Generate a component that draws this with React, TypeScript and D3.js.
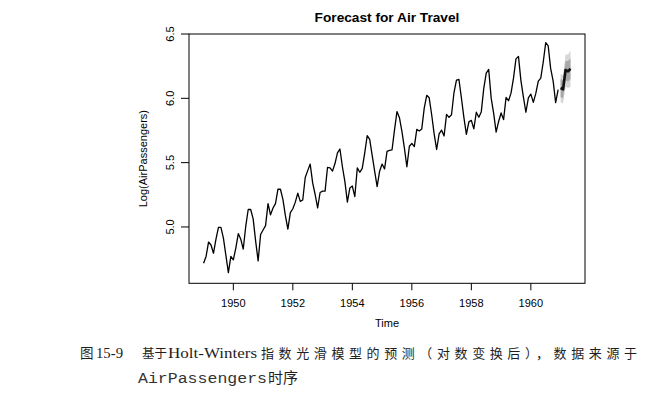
import React from "react";
import * as d3 from "d3";

const W = 659;
const H = 393;

const startYear = 1949;
const passengers = [
  112, 118, 132, 129, 121, 135, 148, 148, 136, 119, 104, 118,
  115, 126, 141, 135, 125, 149, 170, 170, 158, 133, 114, 140,
  145, 150, 178, 163, 172, 178, 199, 199, 184, 162, 146, 166,
  171, 180, 193, 181, 183, 218, 230, 242, 209, 191, 172, 194,
  196, 196, 236, 235, 229, 243, 264, 272, 237, 211, 180, 201,
  204, 188, 235, 227, 234, 264, 302, 293, 259, 229, 203, 229,
  242, 233, 267, 269, 270, 315, 364, 347, 312, 274, 237, 278,
  284, 277, 317, 313, 318, 374, 413, 405, 355, 306, 271, 306,
  315, 301, 356, 348, 355, 422, 465, 467, 404, 347, 305, 336,
  340, 318, 362, 348, 363, 435, 491, 505, 404, 359, 310, 337,
  360, 342, 406, 396, 420, 472, 548, 559, 463, 407, 362, 405,
  417, 391, 419, 461, 472, 535, 622, 606, 508, 461, 390, 432,
];

const forecastStart = 1961;
const forecastMean = [6.08, 6.07, 6.22, 6.21, 6.23];
const lower80 = [6.01, 6.0, 6.14, 6.13, 6.15];
const upper80 = [6.15, 6.14, 6.29, 6.29, 6.31];
const lower95 = [5.97, 5.96, 6.09, 6.08, 6.09];
const upper95 = [6.19, 6.18, 6.34, 6.34, 6.37];

const xTicks = [1950, 1952, 1954, 1956, 1958, 1960];
const yTicks = [5.0, 5.5, 6.0, 6.5];

const title = "Forecast for Air Travel";
const xLabel = "Time";
const yLabel = "Log(AirPassengers)";
const captionFig = "图";
const captionNum = "15-9";
const captionA = "基于";
const captionLatin = "Holt-Winters";
const captionB = "指数光滑模型的预测（对数变换后），数据来源于";
const captionMono = "AirPassengers";
const captionEnd = "时序";

const box = { left: 189, right: 585, top: 34, bottom: 283.3 };

export default function App() {
  const x = d3.scaleLinear().domain([1948.51, 1961.82]).range([box.left, box.right]);
  const y = d3.scaleLinear().domain([4.562, 6.5]).range([box.bottom, box.top]);

  const hist = passengers.map((v, i) => ({ t: startYear + i / 12, v: Math.log(v) }));
  const fc = forecastMean.map((v, i) => ({
    t: forecastStart + i / 12,
    v,
    l80: lower80[i],
    u80: upper80[i],
    l95: lower95[i],
    u95: upper95[i],
  }));

  const line = d3
    .line<{ t: number; v: number }>()
    .x((d) => x(d.t))
    .y((d) => y(d.v));
  const area95 = d3
    .area<any>()
    .x((d) => x(d.t))
    .y0((d) => y(d.l95))
    .y1((d) => y(d.u95));
  const area80 = d3
    .area<any>()
    .x((d) => x(d.t))
    .y0((d) => y(d.l80))
    .y1((d) => y(d.u80));

  const font = "'Liberation Sans', Arial, Helvetica, sans-serif";
  const cjk = "'Noto Sans CJK SC', sans-serif";
  const serif = "'Liberation Serif', 'Times New Roman', serif";
  const midX = (box.left + box.right) / 2;
  const midY = (box.top + box.bottom) / 2;
  const capFill = "#1e1e1e";

  return (
    <svg
      width={W}
      height={H}
      style={{ position: "absolute", left: 0, top: 0, background: "#fff" }}
    >
      <rect x={0} y={0} width={W} height={H} fill="#fff" />
      <text x={midX} y={22} textAnchor="middle" fontFamily={font} fontWeight="bold" fontSize={13.7}>
        {title}
      </text>

      <path d={area95(fc) || ""} fill="#d6d6d6" />
      <path d={area80(fc) || ""} fill="#a8a8a8" />
      <path d={line(hist) || ""} fill="none" stroke="#000" strokeWidth={1.3} strokeLinejoin="round" />
      <path d={line(fc) || ""} fill="none" stroke="#111" strokeWidth={2.6} strokeLinejoin="round" />

      <rect
        x={box.left}
        y={box.top}
        width={box.right - box.left}
        height={box.bottom - box.top}
        fill="none"
        stroke="#000"
        strokeWidth={1}
      />

      {/* x axis */}
      {xTicks.map((t) => (
        <g key={t}>
          <line x1={x(t)} x2={x(t)} y1={box.bottom} y2={box.bottom + 7} stroke="#000" />
          <text x={x(t)} y={307} textAnchor="middle" fontFamily={font} fontSize={11}>
            {t}
          </text>
        </g>
      ))}
      <text x={midX} y={327} textAnchor="middle" fontFamily={font} fontSize={11}>
        {xLabel}
      </text>

      {/* y axis */}
      {yTicks.map((t) => (
        <g key={t}>
          <line x1={box.left - 8} x2={box.left} y1={y(t)} y2={y(t)} stroke="#000" />
          <text
            transform={`translate(${174},${y(t)}) rotate(-90)`}
            textAnchor="middle"
            fontFamily={font}
            fontSize={11}
          >
            {t.toFixed(1)}
          </text>
        </g>
      ))}
      <text
        transform={`translate(${147},${midY}) rotate(-90)`}
        textAnchor="middle"
        fontFamily={font}
        fontSize={11}
      >
        {yLabel}
      </text>

      {/* caption line 1 */}
      <text x={80} y={358} fontFamily={cjk} fontSize={13.5} fill={capFill}>
        {captionFig}
      </text>
      <text x={96} y={358} fontFamily={serif} fontSize={15} fill={capFill} textLength={27} lengthAdjust="spacingAndGlyphs">
        {captionNum}
      </text>
      <text x={142} y={358} fontFamily={cjk} fontSize={12.5} fill={capFill}>
        {captionA}
      </text>
      <text x={168} y={358} fontFamily={serif} fontSize={15} fill={capFill} textLength={89} lengthAdjust="spacingAndGlyphs">
        {captionLatin}
      </text>
      <text x={261} y={358} fontFamily={cjk} fontSize={13} fill={capFill} textLength={376} lengthAdjust="spacing">
        {captionB}
      </text>

      {/* caption line 2 */}
      <text
        x={138}
        y={383}
        fontFamily="'Liberation Mono', 'DejaVu Sans Mono', monospace"
        fontSize={15.5}
        fill="#333"
        textLength={129}
        lengthAdjust="spacingAndGlyphs"
      >
        {captionMono}
      </text>
      <text x={268} y={383} fontFamily={cjk} fontSize={15} fill={capFill}>
        {captionEnd}
      </text>
    </svg>
  );
}
